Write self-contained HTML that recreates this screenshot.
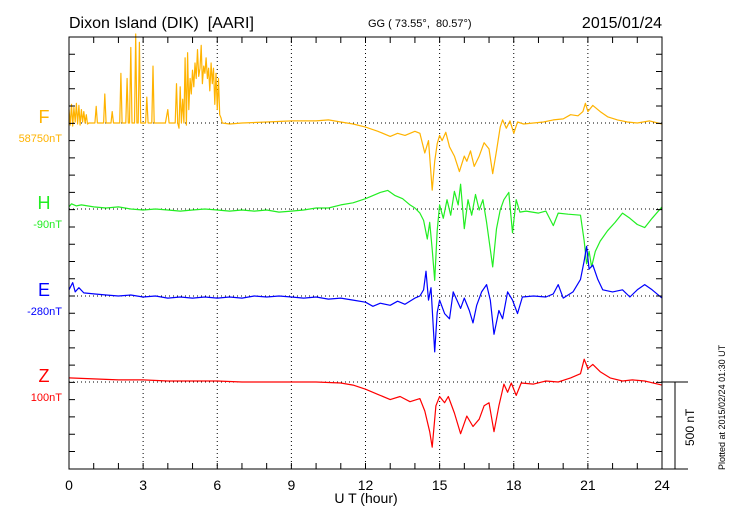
<!DOCTYPE html>
<html><head><meta charset="utf-8"><style>
body{margin:0;background:#fff;}
svg text{font-family:"Liberation Sans",sans-serif;white-space:pre;}
</style></head><body>
<svg id="chart" width="730" height="520" xmlns="http://www.w3.org/2000/svg">
<text x="69" y="28" font-size="16" xml:space="preserve">Dixon Island (DIK)  [AARI]</text>
<text x="368" y="27" font-size="11" xml:space="preserve">GG ( 73.55°,  80.57°)</text>
<text x="662" y="28" font-size="16" text-anchor="end">2015/01/24</text>
<text x="366" y="503" font-size="14" text-anchor="middle">U T (hour)</text>
<text transform="translate(725,470) rotate(-90)" font-size="9">Plotted at 2015/02/24 01:30 UT</text>
<text transform="translate(694,446) rotate(-90)" font-size="12">500 nT</text>
<g id="grid"></g><g id="series"></g><g id="axes"></g>
</svg>
<script>
const xTicks=["0","3","6","9","12","15","18","21","24"];
const seriesNames=["F","H","E","Z"];
const baseLabels=["58750nT","-90nT","-280nT","100nT"];
const fT=[0,0.05,0.1,0.15,0.2,0.25,0.3,0.35,0.4,0.45,0.5,0.55,0.6,0.65,0.7,0.75,0.8,1.05,1.1,1.15,1.4,1.45,1.5,1.7,1.75,1.8,2.05,2.1,2.15,2.3,2.35,2.4,2.45,2.5,2.55,2.65,2.7,2.75,2.8,2.85,2.9,3.1,3.15,3.2,3.35,3.4,3.45,3.9,4.0,4.05,4.3,4.35,4.4,4.45,4.5,4.55,4.6,4.65,4.7,4.75,4.8,4.85,4.9,4.95,5.0,5.05,5.1,5.15,5.2,5.25,5.3,5.35,5.4,5.45,5.5,5.55,5.6,5.65,5.7,5.75,5.8,5.85,5.9,5.95,6.0,6.05,6.1,6.15,6.2,6.5,7,8,9,10,10.5,11,11.5,12,12.5,13,13.3,13.6,14,14.2,14.4,14.55,14.7,14.8,14.9,15.0,15.1,15.25,15.4,15.6,15.8,16.0,16.1,16.25,16.4,16.6,16.8,17.0,17.15,17.3,17.45,17.55,17.7,17.85,18.0,18.15,18.4,18.8,19.2,19.6,20.0,20.3,20.6,20.8,20.9,21.0,21.2,21.5,21.8,22.2,22.6,23,23.5,24];
const fV=[78,-12,108,-18,90,6,114,-6,102,-12,78,6,66,0,48,-6,0,0,96,0,0,168,0,0,66,0,0,288,0,0,258,0,0,438,0,0,516,0,0,468,0,0,150,0,0,330,0,0,78,0,0,228,0,-30,210,0,138,0,378,-12,408,78,258,168,306,210,348,258,426,270,318,450,228,330,288,378,258,318,186,348,228,318,108,288,78,258,48,30,0,-6,0,6,12,12,18,6,-6,-24,-48,-78,-60,-72,-48,-60,-174,-102,-390,-222,-120,-72,-102,-54,-138,-192,-282,-192,-222,-162,-252,-192,-114,-150,-294,-162,-24,18,-30,12,-60,6,-6,0,6,18,24,48,42,66,114,66,102,66,36,18,6,0,12,-6];
const hT=[0,0.1,0.3,0.5,1,1.5,2,2.5,3,3.5,4,4.5,5,5.5,6,6.5,7,7.5,8,8.5,9,9.5,10,10.5,11,11.5,12,12.3,12.6,12.9,13.2,13.5,13.8,14.0,14.2,14.35,14.5,14.6,14.7,14.8,14.9,15.0,15.15,15.3,15.45,15.6,15.75,15.85,16.0,16.15,16.3,16.45,16.6,16.75,16.9,17.05,17.15,17.3,17.45,17.6,17.8,17.95,18.1,18.25,18.5,19,19.3,19.6,19.8,20.2,20.7,20.85,20.95,21.05,21.15,21.3,21.5,21.8,22.1,22.4,22.7,23.0,23.3,23.6,24];
const hV=[12,30,18,24,12,6,12,0,-6,0,-6,-12,-6,0,-6,-12,-6,-12,-6,-18,-12,-6,6,6,24,36,60,78,96,108,78,60,24,6,-24,-66,-174,-78,-234,-414,-126,24,-54,54,-36,102,24,144,-114,54,-36,84,-6,54,-78,-234,-336,-114,-6,54,96,-138,54,-18,-12,-24,-12,-96,-24,-30,-36,-186,-318,-246,-336,-246,-186,-126,-78,-24,-54,-90,-108,-54,12];
const eT=[0,0.15,0.25,0.4,0.6,1,1.5,2,2.5,3,3.5,4,4.5,5,5.5,6,6.5,7,7.5,8,8.5,9,9.5,10,10.5,11,11.5,12,12.3,12.6,13,13.3,13.6,14,14.2,14.35,14.45,14.55,14.65,14.8,14.9,15.0,15.2,15.4,15.55,15.7,15.85,16.0,16.2,16.35,16.5,16.7,16.9,17.05,17.2,17.4,17.55,17.75,17.95,18.15,18.35,18.8,19.3,19.6,19.8,20.0,20.4,20.7,20.85,20.95,21.05,21.2,21.4,21.6,22.0,22.4,22.7,23.0,23.3,23.6,24];
const eV=[36,78,24,48,18,12,6,0,6,-6,0,-12,-6,-12,-6,-12,-6,-12,0,-6,0,-6,-12,-6,-18,-12,-24,-36,-60,-42,-54,-30,-48,-12,0,36,144,-24,48,-324,-96,-24,-102,-132,24,-24,-72,-12,-84,-156,-54,24,66,-24,-222,-84,-132,24,-24,-102,-6,0,-6,12,66,-12,24,96,204,288,156,180,96,36,24,36,-6,36,66,36,-12];
const zT=[0,1,2,3,4,5,6,7,8,9,10,11,11.5,12,12.5,13,13.4,13.8,14.2,14.4,14.6,14.7,14.85,15.0,15.2,15.35,15.6,15.85,16.1,16.35,16.6,16.8,17.0,17.2,17.4,17.6,17.75,17.9,18.1,18.3,18.8,19.3,19.8,20.3,20.7,20.85,21.0,21.2,21.5,21.9,22.4,22.8,23.3,24];
const zV=[24,18,12,12,6,6,6,0,0,0,0,-6,-18,-42,-72,-102,-84,-114,-96,-168,-288,-378,-138,-84,-120,-84,-180,-300,-198,-258,-216,-138,-120,-288,-138,-12,-60,-6,-78,-6,-12,6,0,24,48,132,78,102,60,24,6,12,6,-18];

const L=69,R=662,T=37,B=469;
const bases=[123,209,296,382];
const colors=["#ffb300","#22ee22","#0000ff","#ff0000"];
const NS="http://www.w3.org/2000/svg";
const xS=t=>L+t*(R-L)/24;
const yS=(i,v)=>bases[i]-v/5.8;
function mk(tag,attrs,parent){const e=document.createElementNS(NS,tag);for(const k in attrs)e.setAttribute(k,attrs[k]);parent.appendChild(e);return e;}
const grid=document.getElementById('grid'),axes=document.getElementById('axes'),ser=document.getElementById('series');
xTicks.forEach((lab,i)=>{const t=+lab;
 if(t>0&&t<24){const g=mk('line',{x1:xS(t),x2:xS(t),y1:T,y2:B,stroke:'#000','stroke-width':1,'stroke-dasharray':'1,3'},grid);
 
 }
 const tx=mk('text',{x:xS(t),y:490,'font-size':14,'text-anchor':'middle'},axes);tx.textContent=lab;
 
 
});
bases.forEach((b,i)=>{const g=mk('line',{x1:L,x2:R,y1:b,y2:b,stroke:'#000','stroke-width':1,'stroke-dasharray':'1,3'},grid);
 
 
 const n=mk('text',{x:44,y:b-0,'font-size':18,fill:colors[i],'text-anchor':'middle'},axes);n.textContent=seriesNames[i];
 
 
 const v=mk('text',{x:62,y:b+19,'font-size':11,fill:colors[i],'text-anchor':'end'},axes);v.textContent=baseLabels[i];
 
 
});
let td='';for(let h=1;h<24;h++){const x=xS(h);td+=`M${x},${T}v6M${x},${B}v-6`;}
for(let y=T+17.25;y<B-1;y+=17.27){td+=`M${L},${y}h6M${R},${y}h-6`;}
const tk=mk('path',{d:td,stroke:'#000','stroke-width':1,fill:'none'},axes);


const fr=mk('path',{d:`M${L},${T}H${R}V${B}H${L}Z M${R},${B}H688 M${R},382H688 M675,382V${B}`,stroke:'#000','stroke-width':1,fill:'none'},axes);


const data=[[fT,fV],[hT,hV],[eT,eV],[zT,zV]];
data.forEach((d,i)=>{let p='';d[0].forEach((t,j)=>{p+=(j?'L':'M')+xS(t).toFixed(1)+','+yS(i,d[1][j]).toFixed(1);});
 const ln=mk('path',{d:p,stroke:colors[i],'stroke-width':1.2,fill:'none','stroke-linejoin':'round'},ser);
 
 
});
</script>
</body></html>
